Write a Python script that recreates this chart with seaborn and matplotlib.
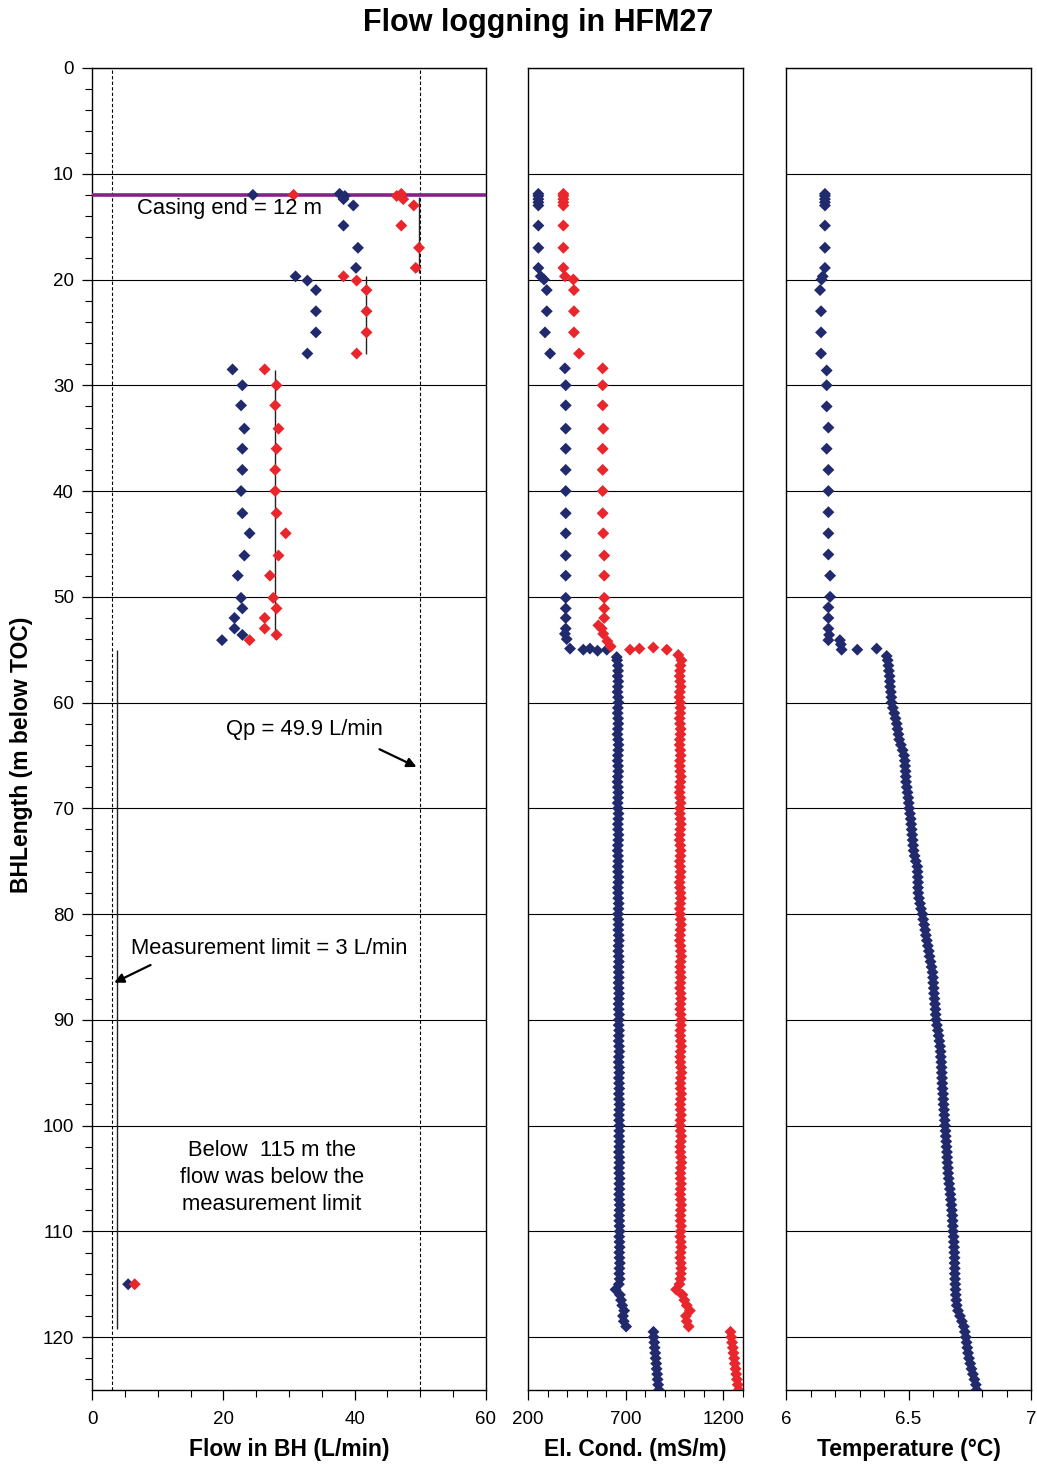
import matplotlib
matplotlib.use("Agg")
import matplotlib.pyplot as plt
import seaborn as sns
from matplotlib.ticker import MultipleLocator, FixedLocator

# ---------------- data ----------------
# Flow panel (L/min) -- sparse measurements
FLOW_DEPTH = [12.0, 11.9, 12.1, 12.4, 13.0, 14.9, 17.0, 18.9, 19.7, 20.1, 21.0, 23.0, 25.0, 27.0,
              28.5, 30.0, 31.9, 34.1, 36.0, 38.0, 40.0, 42.1, 44.0,
              46.1, 48.0, 50.1, 51.1, 52.0, 53.0, 53.6, 54.1, 115.0]
FLOW_BLUE = [24.5, 37.7, 38.5, 38.3, 39.8, 38.3, 40.5, 40.2, 31.0, 32.8, 34.1, 34.1, 34.1, 32.8,
             21.4, 22.9, 22.7, 23.2, 22.9, 22.9, 22.7, 22.9, 24.0,
             23.2, 22.2, 22.7, 22.9, 21.7, 21.7, 22.9, 19.8, 5.5]
FLOW_RED = [30.7, 47.1, 46.4, 47.4, 49.0, 47.1, 49.8, 49.3, 38.3, 40.3, 41.8, 41.8, 41.8, 40.3,
            26.3, 28.1, 27.9, 28.4, 28.1, 27.9, 27.9, 28.1, 29.5,
            28.4, 27.1, 27.6, 28.1, 26.3, 26.3, 28.1, 24.0, 6.5]

# Section flow steps (vertical segments)
STEP_FLOW = [49.8, 41.8, 27.9, 3.8]
STEP_TOP = [12.2, 19.7, 28.6, 55.0]
STEP_BOT = [19.4, 27.0, 54.0, 119.2]

CASING_END = 12
MEAS_LIMIT = 3
QP = 49.9

# EC panel (mS/m) -- sparse part
EC_BLUE_DEPTH = [11.9, 12.1, 12.4, 12.7, 13.0, 14.9, 17.0, 18.9, 19.7, 20.0, 21.0, 23.0, 25.0, 27.0,
                 28.4, 30.0, 31.9, 34.1, 36.0, 38.0, 40.0, 42.1, 44.0,
                 46.1, 48.0, 50.1, 51.1, 52.0, 53.0,
                 53.5, 54.0, 54.9, 55.0, 54.9, 55.1, 55.0, 55.7]
EC_BLUE = [253, 253, 253, 253, 253, 253, 253, 253, 265, 282, 296, 296, 287, 313,
           389, 393, 393, 393, 393, 393, 393, 393, 393,
           393, 393, 393, 393, 393, 393,
           389, 398, 415, 483, 517, 556, 603, 654]
EC_RED_DEPTH = [11.9, 12.1, 12.4, 12.7, 13.0, 14.9, 17.0, 18.9, 19.7, 20.0, 21.0, 23.0, 25.0, 27.0,
                28.4, 30.0, 31.9, 34.1, 36.0, 38.0, 40.0, 42.1, 44.0,
                46.1, 48.0, 50.1, 51.1, 52.0,
                52.7, 53.0, 53.5, 54.2, 54.7,
                55.0, 54.9, 54.8, 55.0, 55.5]
EC_RED = [381, 381, 381, 381, 381, 381, 381, 381, 389, 432, 435, 435, 435, 461,
          582, 582, 582, 585, 582, 582, 582, 582, 585,
          590, 590, 590, 590, 590,
          560, 577, 585, 606, 623,
          722, 770, 841, 910, 969]

# Temperature panel (deg C) -- sparse part
T_DEPTH = [11.9, 12.1, 12.4, 12.7, 13.0, 14.9, 17.0, 18.9, 19.7, 20.0, 21.0, 23.0, 25.0, 27.0,
           28.6, 30.0, 32.0, 34.0, 36.0, 38.0, 40.0, 42.0, 44.0,
           46.0, 48.0, 50.0, 51.0, 52.0, 53.0,
           53.6, 54.1, 54.1, 54.5, 55.0, 55.0, 54.9, 55.6]
TEMP = [6.159, 6.159, 6.159, 6.159, 6.159, 6.159, 6.159, 6.159, 6.150, 6.145, 6.139, 6.143, 6.143, 6.143,
        6.166, 6.166, 6.166, 6.173, 6.166, 6.173, 6.173, 6.173, 6.173,
        6.173, 6.180, 6.180, 6.173, 6.173, 6.173,
        6.176, 6.173, 6.220, 6.224, 6.227, 6.291, 6.370, 6.411]

# Continuous logging below 56 m
LOG_DEPTH = [56.0, 56.5, 57.0, 57.5, 58.0, 58.5, 59.0, 59.5, 60.0, 60.5,
             61.0, 61.5, 62.0, 62.5, 63.0, 63.5, 64.0, 64.5, 65.0, 65.5,
             66.0, 66.5, 67.0, 67.5, 68.0, 68.5, 69.0, 69.5, 70.0, 70.5,
             71.0, 71.5, 72.0, 72.5, 73.0, 73.5, 74.0, 74.5, 75.0, 75.5,
             76.0, 76.5, 77.0, 77.5, 78.0, 78.5, 79.0, 79.5, 80.0, 80.5,
             81.0, 81.5, 82.0, 82.5, 83.0, 83.5, 84.0, 84.5, 85.0, 85.5,
             86.0, 86.5, 87.0, 87.5, 88.0, 88.5, 89.0, 89.5, 90.0, 90.5,
             91.0, 91.5, 92.0, 92.5, 93.0, 93.5, 94.0, 94.5, 95.0, 95.5,
             96.0, 96.5, 97.0, 97.5, 98.0, 98.5, 99.0, 99.5, 100.0, 100.5,
             101.0, 101.5, 102.0, 102.5, 103.0, 103.5, 104.0, 104.5, 105.0, 105.5,
             106.0, 106.5, 107.0, 107.5, 108.0, 108.5, 109.0, 109.5, 110.0, 110.5,
             111.0, 111.5, 112.0, 112.5, 113.0, 113.5, 114.0, 114.5, 115.0, 115.5,
             116.0, 116.5, 117.0, 117.5, 118.0, 118.5, 119.0,
             119.5, 120.0, 120.5, 121.0, 121.5, 122.0, 122.5, 123.0, 123.5, 124.0, 124.5, 125.0]
LOG_EC_BLUE = [656, 660, 661, 659, 662, 660, 658, 661, 663, 660,
               659, 661, 662, 660, 658, 661, 663, 662, 660, 659,
               661, 662, 660, 658, 660, 662, 661, 659, 661, 663,
               662, 660, 661, 663, 662, 660, 659, 661, 662, 660,
               661, 663, 662, 660, 661, 662, 664, 663, 661, 662,
               663, 662, 664, 665, 663, 662, 664, 665, 663, 664,
               665, 663, 664, 666, 665, 663, 664, 666, 665, 664,
               666, 665, 664, 666, 667, 665, 664, 666, 667, 665,
               666, 667, 665, 666, 668, 667, 665, 666, 668, 667,
               666, 668, 667, 665, 667, 668, 666, 667, 669, 667,
               668, 666, 667, 669, 668, 666, 667, 668, 669, 667,
               668, 669, 667, 668, 670, 668, 667, 669, 665, 648,
               670, 676, 682, 692, 686, 690, 702,
               842, 843, 846, 848, 851, 853, 856, 858, 861, 863, 866, 870]
LOG_EC_RED = [985, 980, 978, 976, 979, 981, 977, 975, 978, 980,
              979, 976, 978, 981, 980, 977, 976, 979, 981, 978,
              977, 979, 982, 980, 977, 976, 979, 981, 978, 977,
              980, 982, 979, 977, 976, 979, 981, 980, 977, 978,
              981, 979, 976, 978, 980, 982, 979, 977, 978, 981,
              983, 980, 978, 977, 980, 982, 984, 981, 979, 980,
              982, 980, 978, 981, 983, 980, 979, 981, 984, 982,
              980, 979, 982, 984, 981, 979, 980, 983, 985, 982,
              980, 981, 984, 982, 979, 981, 983, 980, 978, 981,
              984, 982, 979, 980, 983, 985, 982, 980, 981, 983,
              981, 979, 982, 984, 982, 980, 981, 983, 981, 979,
              982, 984, 981, 979, 982, 984, 982, 980, 975, 958,
              990, 1000, 1012, 1028, 1008, 1012, 1022,
              1236, 1240, 1244, 1248, 1251, 1255, 1258, 1262, 1265, 1269, 1273, 1277]
LOG_TEMP = [6.415, 6.418, 6.420, 6.423, 6.424, 6.425, 6.428, 6.430, 6.431, 6.436,
            6.442, 6.447, 6.452, 6.455, 6.459, 6.462, 6.469, 6.476, 6.482, 6.485,
            6.486, 6.488, 6.489, 6.490, 6.493, 6.496, 6.499, 6.501, 6.503, 6.506,
            6.509, 6.511, 6.513, 6.515, 6.517, 6.519, 6.521, 6.525, 6.530, 6.536,
            6.537, 6.538, 6.539, 6.539, 6.540, 6.543, 6.547, 6.551, 6.557, 6.560,
            6.564, 6.568, 6.571, 6.575, 6.579, 6.583, 6.586, 6.590, 6.594, 6.598,
            6.600, 6.601, 6.603, 6.604, 6.606, 6.608, 6.610, 6.611, 6.613, 6.616,
            6.620, 6.623, 6.626, 6.629, 6.631, 6.632, 6.634, 6.635, 6.636, 6.637,
            6.638, 6.639, 6.641, 6.642, 6.643, 6.645, 6.646, 6.648, 6.649, 6.651,
            6.652, 6.654, 6.655, 6.657, 6.658, 6.659, 6.661, 6.662, 6.664, 6.666,
            6.669, 6.671, 6.673, 6.675, 6.677, 6.679, 6.680, 6.681, 6.682, 6.684,
            6.685, 6.686, 6.687, 6.688, 6.688, 6.689, 6.689, 6.690, 6.691, 6.692,
            6.693, 6.695, 6.697, 6.702, 6.710, 6.718, 6.726,
            6.730, 6.734, 6.737, 6.740, 6.743, 6.747, 6.752, 6.757, 6.763, 6.769, 6.775, 6.778]

FLOW_TICKS = [0, 20, 40, 60]
EC_TICKS = [200, 700, 1200]
T_TICKS = [6, 6.5, 7]
T_TICKLABELS = ["6", "6.5", "7"]
DEPTH_TICKS = [0, 10, 20, 30, 40, 50, 60, 70, 80, 90, 100, 110, 120]

# ---------------- style ----------------
BLUE = "#222a6e"
RED = "#e8262b"
PURPLE = "#8a1f8c"
S = 37

sns.set_theme(style="ticks")
plt.rcParams['font.family'] = ['Liberation Sans', 'DejaVu Sans']
plt.rcParams['axes.edgecolor'] = 'black'
plt.rcParams['axes.linewidth'] = 1.0
plt.rcParams['text.color'] = 'black'
plt.rcParams['axes.labelcolor'] = 'black'
plt.rcParams['xtick.color'] = 'black'
plt.rcParams['ytick.color'] = 'black'
plt.rcParams['xtick.labelcolor'] = 'black'
plt.rcParams['ytick.labelcolor'] = 'black'

W, H = 1037, 1464
fig = plt.figure(figsize=(W / 100, H / 100), dpi=100)
fig.patch.set_facecolor('white')


def box(x0, x1, y0=68, y1=1390):
    return [x0 / W, (H - y1) / H, (x1 - x0) / W, (y1 - y0) / H]


ax1 = fig.add_axes(box(92, 486))
ax2 = fig.add_axes(box(528, 743))
ax3 = fig.add_axes(box(786, 1031))

for ax in (ax1, ax2, ax3):
    ax.set_facecolor('white')
    ax.set_ylim(125, 0)
    ax.yaxis.set_major_locator(FixedLocator(DEPTH_TICKS))
    ax.grid(axis='y', which='major', color='black', lw=0.8)
    ax.grid(axis='x', visible=False)
    ax.set_axisbelow(True)
    for sp in ax.spines.values():
        sp.set_visible(True)
        sp.set_color('black')
        sp.set_linewidth(1.0)
    ax.tick_params(axis='x', which='major', direction='out', length=7, width=0.9,
                   labelsize=13.5, pad=8, colors='black', labelcolor='black')
    ax.tick_params(axis='x', which='minor', direction='out', length=5, width=0.8, colors='black')

# ---- flow panel ----
ax1.set_xlim(0, 60)
ax1.xaxis.set_major_locator(FixedLocator(FLOW_TICKS))
ax1.xaxis.set_minor_locator(MultipleLocator(5))
ax1.yaxis.set_minor_locator(MultipleLocator(2))
ax1.tick_params(axis='y', which='major', direction='out', length=7, width=0.9, labelsize=13.5,
                pad=6, colors='black', labelcolor='black')
ax1.tick_params(axis='y', which='minor', direction='out', length=5, width=0.8, left=True, colors='black')
ax1.axvline(MEAS_LIMIT, color='black', lw=0.8, ls=(0, (3, 2)), zorder=1)
ax1.axvline(QP, color='black', lw=0.8, ls=(0, (3, 2)), zorder=1)
ax1.vlines(STEP_FLOW, STEP_TOP, STEP_BOT, color='#222222', lw=1.0, zorder=2)
ax1.axhline(CASING_END, color=PURPLE, lw=2.6, zorder=3)
sns.scatterplot(x=FLOW_BLUE, y=FLOW_DEPTH, ax=ax1, marker='D', s=S, color=BLUE,
                edgecolor='none', linewidth=0, legend=False, zorder=4)
sns.scatterplot(x=FLOW_RED, y=FLOW_DEPTH, ax=ax1, marker='D', s=S, color=RED,
                edgecolor='none', linewidth=0, legend=False, zorder=5)

ax1.text(6.85, 13.25, "Casing end = 12 m", fontsize=15.8, va='center', ha='left', zorder=6)
ax1.text(20.4, 62.5, "Qp = 49.9 L/min", fontsize=15.8, va='center', ha='left')
ax1.annotate("", xy=(49.8, 66.2), xytext=(43.4, 64.3),
             arrowprops=dict(arrowstyle='-|>', color='black', lw=1.6, mutation_scale=14))
ax1.text(5.9, 83.3, "Measurement limit = 3 L/min", fontsize=15.8, va='center', ha='left')
ax1.annotate("", xy=(3.0, 86.6), xytext=(9.3, 84.7),
             arrowprops=dict(arrowstyle='-|>', color='black', lw=1.6, mutation_scale=14))
ax1.text(27.4, 104.9, "Below  115 m the\nflow was below the\nmeasurement limit",
         fontsize=15.8, va='center', ha='center', linespacing=1.35)

# ---- EC panel ----
ax2.set_xlim(200, 1300)
ax2.xaxis.set_major_locator(FixedLocator(EC_TICKS))
ax2.xaxis.set_minor_locator(MultipleLocator(100))
ax2.tick_params(axis='y', which='both', length=0, labelleft=False)
sns.scatterplot(x=EC_BLUE, y=EC_BLUE_DEPTH, ax=ax2, marker='D', s=S, color=BLUE,
                edgecolor='none', linewidth=0, legend=False, zorder=4)
sns.scatterplot(x=LOG_EC_BLUE, y=LOG_DEPTH, ax=ax2, marker='D', s=S, color=BLUE,
                edgecolor='none', linewidth=0, legend=False, zorder=4)
sns.scatterplot(x=EC_RED, y=EC_RED_DEPTH, ax=ax2, marker='D', s=S, color=RED,
                edgecolor='none', linewidth=0, legend=False, zorder=5)
sns.scatterplot(x=LOG_EC_RED, y=LOG_DEPTH, ax=ax2, marker='D', s=S, color=RED,
                edgecolor='none', linewidth=0, legend=False, zorder=5)

# ---- temperature panel ----
ax3.set_xlim(6, 7)
ax3.xaxis.set_major_locator(FixedLocator(T_TICKS))
ax3.set_xticklabels(T_TICKLABELS)
ax3.xaxis.set_minor_locator(MultipleLocator(0.1))
ax3.tick_params(axis='y', which='both', length=0, labelleft=False)
sns.scatterplot(x=TEMP, y=T_DEPTH, ax=ax3, marker='D', s=S, color=BLUE,
                edgecolor='none', linewidth=0, legend=False, zorder=4)
sns.scatterplot(x=LOG_TEMP, y=LOG_DEPTH, ax=ax3, marker='D', s=S, color=BLUE,
                edgecolor='none', linewidth=0, legend=False, zorder=4)

for ax in (ax1, ax2, ax3):
    ax.set_ylim(125, 0)
ax1.set_xlim(0, 60)
ax2.set_xlim(200, 1300)
ax3.set_xlim(6, 7)
ax2.set_ylabel("")
ax3.set_ylabel("")

lab = dict(fontsize=16.5, fontweight='bold', labelpad=7, color='black')
ax1.set_xlabel("Flow in BH (L/min)", **lab)
ax2.set_xlabel("El. Cond. (mS/m)", **lab)
ax3.set_xlabel("Temperature (°C)", **lab)
ax1.set_ylabel("")
fig.text(22 / W, 1 - 755 / H, "BHLength (m below TOC)", rotation=90, fontsize=16.5,
         fontweight='bold', ha='center', va='center', color='black')
fig.suptitle("Flow loggning in HFM27", x=538 / W, y=1 - 23 / H, fontsize=22,
             fontweight='bold', va='center', color='black')

fig.savefig("out.png", dpi=100, facecolor='white')
